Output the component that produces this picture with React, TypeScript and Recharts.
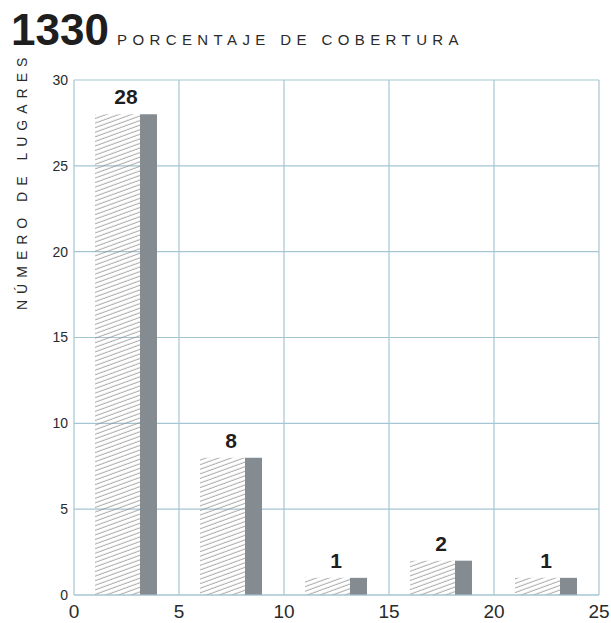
import React from 'react';
import {
  ComposedChart,
  Bar,
  XAxis,
  YAxis,
  CartesianGrid,
  LabelList,
} from 'recharts';

// 5-point classes of coverage percentage (centre of each class) and number of places
const binCenters = [2.5, 7.5, 12.5, 17.5, 22.5];
const places = [28, 8, 1, 2, 1];

const xTicks = [0, 5, 10, 15, 20, 25];
const yTicks = [0, 5, 10, 15, 20, 25, 30];

const barData = binCenters.map((x, i) => ({ x, hatched: places[i], solid: places[i] }));

const FONT = '"Liberation Sans", Arial, Helvetica, sans-serif';
const GRID = '#a6c5d3';
const GREY = '#858c91';
const HATCH_W = 45;
const SOLID_W = 17;

// count printed over the middle of the hatched + solid pair
const ValueLabel = (props: any) => {
  const { x, y, value } = props;
  return (
    <text
      x={x + (HATCH_W + SOLID_W) / 2}
      y={y - 10}
      textAnchor="middle"
      fontSize={21}
      fontWeight={700}
      fill="#1e1e1e"
      fontFamily={FONT}
    >
      {value}
    </text>
  );
};

const App: React.FC = () => {
  return (
    <div style={{ position: 'absolute', left: 0, top: 0, width: 611, height: 623, background: '#fff' }}>
      {/* hatch pattern shared with the chart */}
      <svg width={0} height={0} style={{ position: 'absolute' }}>
        <defs>
          <pattern id="hatch" patternUnits="userSpaceOnUse" width={6} height={4.3} patternTransform="rotate(-20)">
            <line x1={0} y1={2} x2={6} y2={2} stroke="#8a8a8a" strokeWidth={0.8} />
          </pattern>
        </defs>
      </svg>
      <ComposedChart
        width={611}
        height={623}
        data={barData}
        barGap={0}
        margin={{ top: 80, right: 12, bottom: 0, left: 0 }}
      >
        <CartesianGrid stroke={GRID} strokeWidth={1.2} />
        <XAxis
          dataKey="x"
          type="number"
          domain={[0, 25]}
          ticks={xTicks}
          allowDataOverflow
          height={28}
          axisLine={{ stroke: GRID, strokeWidth: 1.2 }}
          tickLine={false}
          tickSize={8}
          tickMargin={2}
          tick={{ fontSize: 19, fill: '#2a2a2a', fontFamily: FONT }}
          interval={0}
        />
        <YAxis
          type="number"
          domain={[0, 30]}
          ticks={yTicks}
          width={74}
          axisLine={false}
          tickLine={false}
          tickSize={4}
          tickMargin={2}
          tick={{ fontSize: 14, fill: '#2a2a2a', fontFamily: FONT }}
          interval={0}
        />
        <Bar dataKey="hatched" barSize={HATCH_W} fill="url(#hatch)" isAnimationActive={false}>
          <LabelList dataKey="hatched" content={<ValueLabel />} />
        </Bar>
        <Bar dataKey="solid" barSize={SOLID_W} fill={GREY} isAnimationActive={false} />
      </ComposedChart>
      {/* title and vertical axis caption */}
      <svg width={611} height={623} style={{ position: 'absolute', left: 0, top: 0, pointerEvents: 'none' }}>
        <text x={11} y={45} fontSize={44} fontWeight={700} fill="#1e1e1e" fontFamily={FONT}>1330</text>
        <text x={117} y={45} fontSize={15} fill="#2a2a2a" fontFamily={FONT} letterSpacing={5.4}>
          PORCENTAJE DE COBERTURA
        </text>
        <text
          x={0}
          y={0}
          transform="translate(27 310) rotate(-90)"
          fontSize={14}
          fill="#2a2a2a"
          fontFamily={FONT}
          letterSpacing={6}
        >
          NÚMERO DE LUGARES
        </text>
      </svg>
    </div>
  );
};

export default App;
